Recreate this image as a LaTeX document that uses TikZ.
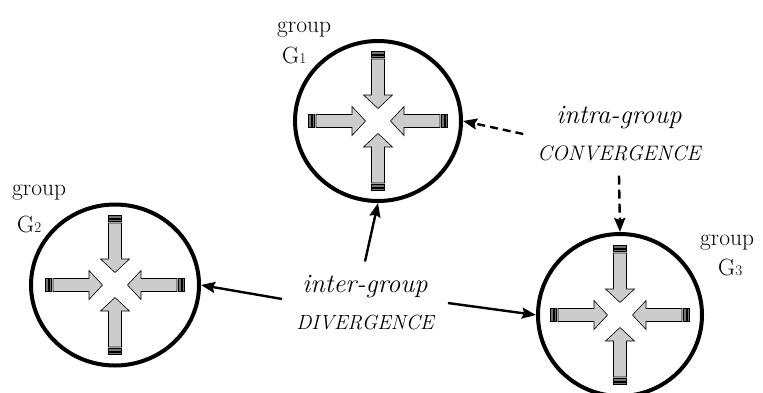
\documentclass[tikz,border=0pt]{standalone}
\usepackage{tikz}
\usetikzlibrary{shapes.geometric,arrows.meta}

\begin{document}
\begin{tikzpicture}[x=1pt,y=-1pt,>={Stealth[length=14pt,width=11pt,inset=2pt]},
    grp/.style={draw,ellipse,line width=4pt,inner sep=0pt},
    lab/.style={font=\fontsize{23.5}{24}\selectfont,inner sep=0pt,anchor=base west},
    big/.style={font=\itshape\fontsize{26.5}{37}\selectfont,align=center,inner sep=14pt},
    conn/.style={->,line width=2.4pt},
    blk/.style={fill=gray!40,draw=black,line width=0.6pt},
    capbar/.style={fill=black!55,draw=black,line width=0.5pt}]
    \useasboundingbox (0,0) rectangle (763,392);

    % the three groups
    \node[grp,minimum width=166pt,minimum height=160pt] (g1) at (378,121) {};
    \node[grp,minimum width=168pt,minimum height=161pt] (g2) at (115,285) {};
    \node[grp,minimum width=164pt,minimum height=162pt] (g3) at (620,315) {};

    % four arrows in each group
    \foreach \g in {g1,g2,g3}
        \foreach \a in {0,90,180,270} {
            \begin{scope}[shift={(\g.center)},rotate=\a]
                \draw[blk] (12.5,0) -- (26,14.5) -- (26,6.5) -- (62,6.5)
                    -- (62,-6.5) -- (26,-6.5) -- (26,-14.5) -- cycle;
                \draw[capbar] (63.5,6.5) rectangle (66,-6.5);
                \draw[capbar] (67,6.5) rectangle (69.5,-6.5);
            \end{scope}
        }

    % group names
    \node[lab] (grp1) at (277,32) {group};
    \node[lab] (nm1) at (282,63) {G{\fontsize{15}{15}\selectfont 1}};
    \node[lab] (grp2) at (12,195) {group};
    \node[lab] (nm2) at (17,232) {G{\fontsize{15}{15}\selectfont 2}};
    \node[lab] (grp3) at (700,245) {group};
    \node[lab] (nm3) at (718,275) {G{\fontsize{15}{15}\selectfont 3}};

    % kinds of flow
    \node[big] (intra) at (619,134) {intra-group\\{\fontsize{21}{37}\selectfont CONVERGENCE}};
    \node[big] (inter) at (365,303) {inter-group\\{\fontsize{20.5}{37}\selectfont DIVERGENCE}};

    \draw[conn] ([yshift=4pt]inter.west) -- (g2.east);
    \draw[conn] (inter.north) -- (g1.south);
    \draw[conn] (inter.east) -- (g3.west);
    \draw[conn,dash pattern=on 8pt off 5pt] (intra.west) -- (g1.east);
    \draw[conn,dash pattern=on 9pt off 5pt] (intra.south) -- (g3.north);
\end{tikzpicture}
\end{document}
